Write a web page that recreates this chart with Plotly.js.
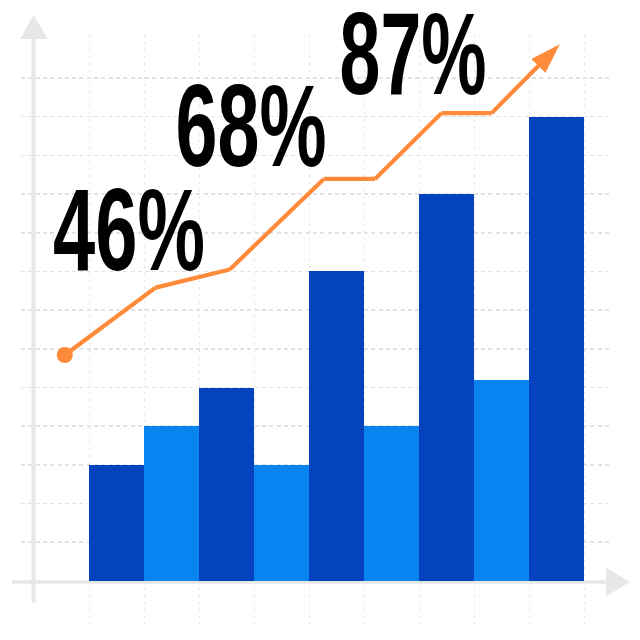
<!DOCTYPE html>
<html>
<head>
<meta charset="utf-8">
<script src="https://cdn.plot.ly/plotly-3.0.1.min.js"></script>
<style>
  html, body { margin: 0; padding: 0; background: #ffffff; }
  #chart { width: 640px; height: 640px; }
</style>
</head>
<body>
<div id="chart"></div>
<script>
// ---- data ----
const barIndex = [0, 1, 2, 3, 4, 5, 6, 7, 8];
const barValues = [3, 4, 5, 3, 8, 4, 10, 5.2, 12];
const barTone = ['dark', 'light', 'dark', 'light', 'dark', 'light', 'dark', 'light', 'dark'];

const trendX = [-0.94, 0.71, 2.06, 3.77, 4.7, 5.91, 6.82, 8.06];
const trendY = [5.84, 7.58, 8.05, 10.39, 10.39, 12.09, 12.09, 13.87];

const labels = ['46%', '68%', '87%'];

const gridY = [1, 2, 3, 4, 5, 6, 7, 8, 9, 10, 11, 12, 13];
const gridX = [-0.5, 0.5, 1.5, 2.5, 3.5, 4.5, 5.5, 6.5, 7.5, 8.5];

// ---- styles ----
const DARK = '#0542bd';
const LIGHT = '#0784f0';
const ORANGE = '#ff8a3a';
const AXIS = '#e6e7e7';
const GRID = '#e2e2e2';

const W = 640, H = 640;
const px = v => v / W;
const py = v => 1 - v / H;

const bars = {
  type: 'bar',
  x: barIndex,
  y: barValues,
  width: 1,
  marker: {
    color: barTone.map(t => t === 'dark' ? DARK : LIGHT),
    line: { width: 0 }
  },
  hoverinfo: 'skip',
  showlegend: false
};

const n = trendX.length;
const trend = {
  type: 'scatter',
  mode: 'lines+markers',
  x: trendX,
  y: trendY,
  line: { color: ORANGE, width: 4.2 },
  marker: {
    color: ORANGE,
    opacity: 1,
    size: trendX.map((_, i) => i === n - 1 ? 32 : 0),
    symbol: 'arrow',
    angleref: 'previous',
    line: { width: 0 }
  },
  cliponaxis: false,
  hoverinfo: 'skip',
  showlegend: false
};

const startDot = {
  type: 'scatter',
  mode: 'markers',
  x: [trendX[0]],
  y: [trendY[0]],
  marker: { color: ORANGE, size: 16, symbol: 'circle', line: { width: 0 } },
  cliponaxis: false,
  hoverinfo: 'skip',
  showlegend: false
};

// label placement (pixel centres) and rendered widths
const labelPos = [[129, 229.5], [250.5, 126], [412.5, 54]];
const labelWidth = [152, 151, 147];

const annotations = labels.map((t, i) => ({
  text: t,
  xref: 'paper', yref: 'paper',
  x: px(labelPos[i][0]), y: py(labelPos[i][1]),
  xanchor: 'center', yanchor: 'middle',
  showarrow: false,
  font: { family: 'Liberation Sans Narrow, Arial Narrow, sans-serif', size: 116, weight: 700, color: '#000000' }
}));

const shapes = [
  // y axis line + arrow
  { type: 'line', xref: 'paper', yref: 'paper', x0: px(33.5), x1: px(33.5), y0: py(603), y1: py(38),
    line: { color: AXIS, width: 4 }, layer: 'below' },
  { type: 'path', xref: 'paper', yref: 'paper',
    path: `M ${px(33.5)} ${py(15)} L ${px(20)} ${py(39)} L ${px(48)} ${py(39)} Z`,
    fillcolor: AXIS, line: { width: 0 }, layer: 'below' },
  // x axis line + arrow
  { type: 'line', xref: 'paper', yref: 'paper', x0: px(12), x1: px(607), y0: py(582), y1: py(582),
    line: { color: AXIS, width: 3.5 }, layer: 'below' },
  { type: 'path', xref: 'paper', yref: 'paper',
    path: `M ${px(630)} ${py(582)} L ${px(606)} ${py(567.5)} L ${px(606)} ${py(596.5)} Z`,
    fillcolor: AXIS, line: { width: 0 }, layer: 'below' }
];

const layout = {
  width: W, height: H,
  margin: { l: 0, r: 0, t: 0, b: 0, pad: 0 },
  paper_bgcolor: '#ffffff',
  plot_bgcolor: 'rgba(0,0,0,0)',
  bargap: 0,
  showlegend: false,
  xaxis: {
    domain: [21 / W, 610 / W],
    range: [(21 - 116.5) / 55, (610 - 116.5) / 55],
    tickmode: 'array', tickvals: gridX,
    showticklabels: false, ticks: '',
    showgrid: true, gridcolor: GRID, gridwidth: 1, griddash: '2px,5px',
    zeroline: false, showline: false, fixedrange: true
  },
  yaxis: {
    domain: [1 - 624 / H, 1 - 35 / H],
    range: [(581 - 624) / 38.7, (581 - 35) / 38.7],
    tickmode: 'array', tickvals: gridY,
    showticklabels: false, ticks: '',
    showgrid: true, gridcolor: GRID, gridwidth: 1.6, griddash: '4px,3.3px',
    zeroline: false, showline: false, fixedrange: true
  },
  shapes: shapes,
  annotations: annotations
};

Plotly.newPlot('chart', [bars, trend, startDot], layout, { staticPlot: true, displayModeBar: false })
  .then(gd => {
    gd.querySelectorAll('.annotation-text').forEach((el, i) => {
      if (labelWidth[i]) {
        el.setAttribute('textLength', labelWidth[i]);
        el.setAttribute('lengthAdjust', 'spacingAndGlyphs');
      }
    });
  });
</script>
</body>
</html>
